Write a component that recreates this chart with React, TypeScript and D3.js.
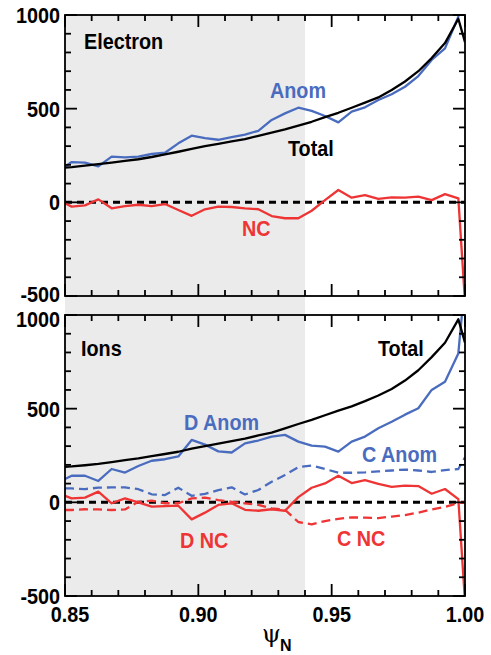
import * as d3 from 'd3'

// psi_N sample points shared by every curve
const psi = [0.85, 0.8525, 0.8575, 0.8625, 0.8675, 0.8725, 0.8775, 0.8825, 0.8875, 0.8925, 0.8975,
  0.9025, 0.9075, 0.9125, 0.9175, 0.9225, 0.9275, 0.9325, 0.9375, 0.9425, 0.9475, 0.9525, 0.9575,
  0.9625, 0.9675, 0.9725, 0.9775, 0.9825, 0.9875, 0.9925, 0.9975, 1.0]

// electron panel
const electronTotal = [185, 188, 196, 204, 212, 221, 230, 242, 256, 270, 285, 300, 312, 325, 338, 355,
  372, 390, 410, 430, 455, 478, 505, 532, 560, 600, 645, 700, 770, 850, 980, 855]
const electronAnom = [190, 215, 212, 192, 244, 240, 244, 258, 265, 315, 356, 343, 334, 348, 362, 382,
  440, 475, 505, 488, 461, 427, 484, 507, 546, 577, 617, 674, 760, 822, 991, 1380]
const electronNC = [-5, -23, -16, 16, -32, -20, -13, -20, -9, -41, -72, -37, -23, -25, -32, -37,
  -73, -85, -85, -45, 12, 66, 25, 39, 18, 27, 25, 30, 12, 44, 21, -530]

// ion panel
const ionTotal = [190, 192, 198, 205, 215, 225, 235, 247, 258, 270, 287, 300, 313, 327, 340, 357,
  372, 395, 418, 440, 465, 490, 512, 540, 570, 605, 650, 705, 775, 852, 977, 852]
const dAnom = [125, 142, 142, 114, 178, 159, 194, 222, 230, 245, 333, 308, 272, 266, 315, 330,
  351, 360, 324, 303, 297, 271, 324, 351, 395, 430, 468, 502, 600, 644, 795, 1180]
const cAnom = [74, 74, 71, 78, 80, 80, 70, 43, 39, 78, 35, 45, 65, 80, 42, 66,
  110, 146, 188, 196, 178, 158, 158, 160, 165, 170, 175, 170, 162, 172, 178, 240]
const dNC = [35, 21, 25, 57, -5, 21, 0, -23, -20, -18, -91, -55, -14, -5, -40, -45,
  -37, -45, 28, 78, 101, 142, 103, 119, 98, 83, 89, 87, 46, 71, 17, -530]
const cNC = [-41, -41, -37, -38, -41, -38, 3, 9, -5, -5, 21, 25, 12, 3, -5, -14,
  -32, -40, -105, -118, -100, -88, -80, -82, -84, -76, -68, -55, -38, -25, -3, 0]

const xMajor = [0.85, 0.90, 0.95, 1.00]
const xTickLabels = ['0.85', '0.90', '0.95', '1.00']
const yMajor = [-500, 0, 500, 1000]
const yTickLabels = ['-500', '0', '500', '1000']
const shadeEnd = 0.94

const BLUE = '#4a6cbf'
const RED = '#ee3434'
const GRAY = '#ebebeb'
const FONT = "'Liberation Sans', Arial, Helvetica, sans-serif"

const x = d3.scaleLinear().domain([0.85, 1.0]).range([65, 465])

const Txt = ({x, y, anchor = 'start', fill = '#000', size = 22, children}: any) => (
  <text transform={`translate(${x},${y}) scale(0.9,1)`} textAnchor={anchor} fontSize={size}
        fontWeight="bold" fontFamily={FONT} fill={fill}>{children}</text>
)

// baseline offset of a y tick label from its tick; the -500 / 1000 pair between panels is pushed apart
const labelOffset = (v: number, isTop: boolean) => {
  if (isTop && v === -500) return 6
  if (!isTop && v === 1000) return 12
  return 8
}

const Panel = ({id, top, bottom, series, isTop}: any) => {
  const y = d3.scaleLinear().domain([-500, 1000]).range([bottom, top])
  const line = d3.line<number>().x((d, i) => x(psi[i])).y((d) => y(d))
  const [x0, x1] = x.range()
  const minorY = y.ticks(15)
  const minorX = x.ticks(15)
  return (
    <g>
      <clipPath id={id}>
        <rect x={x0} y={top} width={x1 - x0} height={bottom - top}/>
      </clipPath>
      <line x1={x0} x2={x1} y1={y(0)} y2={y(0)} stroke="#000" strokeWidth={3} strokeDasharray="7 5"/>
      <g clipPath={`url(#${id})`} fill="none" strokeLinejoin="round">
        {series.map((s: any, i: number) => (
          <path key={i} d={line(s.values) || ''} stroke={s.color} strokeWidth={2.3}
                strokeDasharray={s.dash ? '9 5' : undefined}/>
        ))}
      </g>
      <rect x={x0} y={top} width={x1 - x0} height={bottom - top} fill="none" stroke="#000" strokeWidth={1.8}/>
      {minorY.map((v) => {
        const len = yMajor.includes(v) ? 12 : 6
        return (
          <g key={'y' + v} stroke="#000" strokeWidth={1.8}>
            <line x1={x0} x2={x0 + len} y1={y(v)} y2={y(v)}/>
            <line x1={x1} x2={x1 - len} y1={y(v)} y2={y(v)}/>
          </g>
        )
      })}
      {minorX.map((v) => {
        const len = xMajor.some((m) => Math.abs(m - v) < 1e-9) ? 12 : 6
        return (
          <g key={'x' + v} stroke="#000" strokeWidth={1.8}>
            <line x1={x(v)} x2={x(v)} y1={top} y2={top + len}/>
            <line x1={x(v)} x2={x(v)} y1={bottom} y2={bottom - len}/>
          </g>
        )
      })}
      {yMajor.map((v, i) => (
        <Txt key={'l' + v} x={60} y={y(v) + labelOffset(v, isTop)} anchor="end">{yTickLabels[i]}</Txt>
      ))}
    </g>
  )
}

export default function App() {
  const top1 = 15, bot1 = 296, top2 = 315, bot2 = 596
  return (
    <svg width={491} height={655} viewBox="0 0 491 655"
         style={{position: 'absolute', left: 0, top: 0, background: '#fff'}}>
      <rect x={x(0.85)} y={top1} width={x(shadeEnd) - x(0.85)} height={bot2 - top1} fill={GRAY}/>
      <Panel id="clipE" isTop top={top1} bottom={bot1} series={[
        {values: electronNC, color: RED},
        {values: electronAnom, color: BLUE},
        {values: electronTotal, color: '#000'},
      ]}/>
      <Panel id="clipI" isTop={false} top={top2} bottom={bot2} series={[
        {values: cNC, color: RED, dash: true},
        {values: cAnom, color: BLUE, dash: true},
        {values: dNC, color: RED},
        {values: dAnom, color: BLUE},
        {values: ionTotal, color: '#000'},
      ]}/>

      <Txt x={84} y={49}>Electron</Txt>
      <Txt x={270} y={98} fill={BLUE}>Anom</Txt>
      <Txt x={288} y={156}>Total</Txt>
      <Txt x={242} y={236} fill={RED}>NC</Txt>

      <Txt x={81} y={356}>Ions</Txt>
      <Txt x={378} y={356}>Total</Txt>
      <Txt x={184} y={430} fill={BLUE}>D Anom</Txt>
      <Txt x={362} y={462} fill={BLUE}>C Anom</Txt>
      <Txt x={180} y={548} fill={RED}>D NC</Txt>
      <Txt x={337} y={546} fill={RED}>C NC</Txt>

      {xMajor.map((v, i) => (
        <Txt key={v} x={x(v) + (i === 0 ? 5 : 0)} y={622} anchor="middle">{xTickLabels[i]}</Txt>
      ))}
      <text x={262} y={642} fontSize={24} fontFamily="'DejaVu Serif', 'Liberation Serif', serif" fill="#000">ψ</text>
      <text x={280} y={651} fontSize={16} fontWeight="bold" fontFamily={FONT} fill="#000">N</text>
    </svg>
  )
}
